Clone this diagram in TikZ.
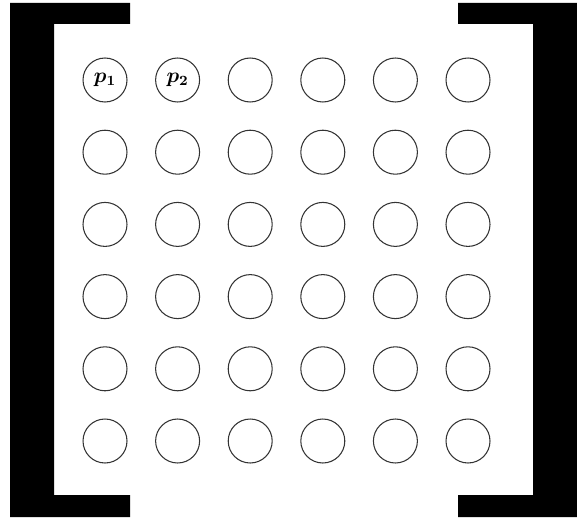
\documentclass[tikz,border=0pt]{standalone}
\usepackage{bm}
\usepackage{tikz}
\usetikzlibrary{positioning}
\tikzset{site/.style={draw=black!80,circle,line width=0.6pt,minimum size=0.88cm,inner sep=0pt,font=\large},barre/.style={fill=black}}

\begin{document}
\begin{tikzpicture}[x=0.02cm,y=-0.02cm]
\useasboundingbox (0,0) rectangle (577,517);
% crochets
\fill[barre] (10,3) -- (130,3) -- (130,24) -- (54,24) -- (54,495) -- (130,495) -- (130,517) -- (10,517) -- cycle;
\fill[barre] (577,3) -- (458,3) -- (458,24) -- (533,24) -- (533,495) -- (458,495) -- (458,517) -- (577,517) -- cycle;
% grille de sites
\foreach \r in {0,...,5}
  \foreach \c in {0,...,5}
    \node[site] (s-\r-\c) at ({105+72.6*\c},{80+72.2*\r}) {};
\node[font=\large] at (s-0-0) {$\bm{p_1}$};
\node[font=\large] at (s-0-1) {$\bm{p_2}$};
\end{tikzpicture}
\end{document}
